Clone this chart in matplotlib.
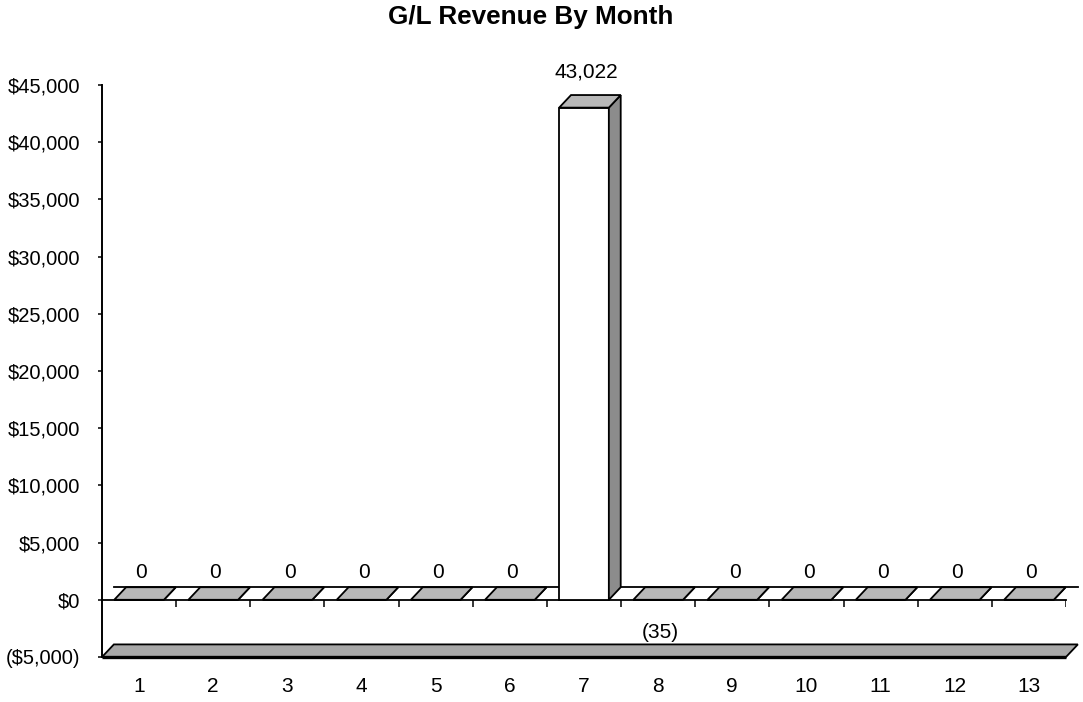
"""G/L revenue by month, drawn as a flat Excel-style 3D column chart."""
import matplotlib.pyplot as plt
from matplotlib.patches import Polygon

plt.rcParams["font.family"] = ["Liberation Sans", "DejaVu Sans"]

months = list(range(1, 14))
revenue = [0, 0, 0, 0, 0, 0, 43022, -35, 0, 0, 0, 0, 0]
yticks = list(range(-5000, 45001, 5000))
title = "G/L Revenue By Month"

BAR_W = 0.67
DX, DY = 0.16, 1100  # depth offset of the 3D faces (x units, y units)
FACE_TOP = "#b8b8b8"
FACE_SIDE = "#8c8c8c"
FLOOR = "#a8a8a8"


def money(v):
    return f"(${-v:,.0f})" if v < 0 else f"${v:,.0f}"


def value_label(v):
    return f"({-v:,.0f})" if v < 0 else f"{v:,.0f}"


fig = plt.figure(figsize=(10.83, 7.02), dpi=100)
ax = fig.add_axes([102 / 1083, 45 / 702, 964 / 1083, 572 / 702])
ax.set_xlim(0.5, 13.5)
ax.set_ylim(-5000, 45000)
lo, hi = ax.get_xlim()
ymin = ax.get_ylim()[0]

# floor slab at the bottom of the value axis
ax.add_patch(Polygon([(lo, ymin), (hi, ymin), (hi + DX, ymin + DY), (lo + DX, ymin + DY)],
                     closed=True, facecolor=FLOOR, edgecolor="black", lw=1.3,
                     clip_on=False, zorder=2))
ax.plot([lo, hi], [ymin, ymin], color="black", lw=2.4, clip_on=False, zorder=3,
        solid_capstyle="butt")

# zero plane: front and back edge, ticks between categories
ax.plot([lo, hi], [0, 0], color="black", lw=1.3, clip_on=False, zorder=2)
ax.plot([lo + DX, hi + DX], [DY, DY], color="black", lw=1.3, clip_on=False, zorder=2)
ax.vlines([m + 0.5 for m in months], -650, 0, color="black", lw=1.1, zorder=2)

for m, v in zip(months, revenue):
    left, right = m - BAR_W / 2, m + BAR_W / 2
    top = max(v, 0)
    ax.bar(m, v, width=BAR_W, color="white", edgecolor="black", lw=1.3, zorder=4)
    ax.add_patch(Polygon([(right, 0), (right + DX, DY), (right + DX, top + DY), (right, top)],
                         closed=True, facecolor=FACE_SIDE, edgecolor="black", lw=1.3,
                         clip_on=False, zorder=4))
    ax.add_patch(Polygon([(left, top), (right, top), (right + DX, top + DY), (left + DX, top + DY)],
                         closed=True, facecolor=FACE_TOP, edgecolor="black", lw=1.3,
                         clip_on=False, zorder=5))
    if v < 0:
        ly = v - 2850
    else:
        ly = top + DY + (2000 if v > 0 else 1250)
    ax.text(m + 0.03, ly, value_label(v), ha="center", va="center", fontsize=15, zorder=6)

ax.set_yticks(yticks)
ax.set_yticklabels([money(v) for v in yticks])
ax.set_xticks(months)
ax.set_xticklabels([str(m) for m in months])
ax.tick_params(axis="y", direction="out", length=3, width=1.1, pad=13, labelsize=14.5)
ax.tick_params(axis="x", length=0, pad=14.5, labelsize=15)
for side in ("top", "right", "bottom"):
    ax.spines[side].set_visible(False)
ax.spines["left"].set_linewidth(1.4)

fig.text(531 / 1083, 1 - 17 / 702, title, ha="center", va="center",
         fontsize=18.8, fontweight="bold")

fig.savefig("out.png", dpi=100)
